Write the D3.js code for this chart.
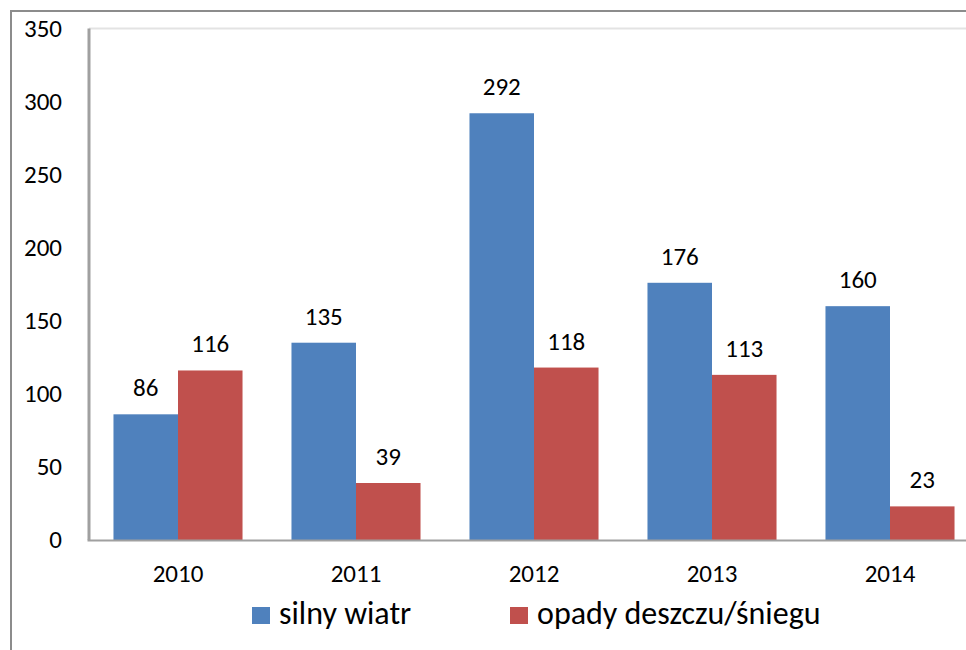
<!DOCTYPE html>
<html>
<head>
<meta charset="utf-8">
<script src="https://cdn.jsdelivr.net/npm/d3@7"></script>
<style>
  html, body { margin: 0; padding: 0; background: #fff; overflow: hidden; }
  svg { display: block; font-family: Carlito, Lato, sans-serif; }
</style>
</head>
<body>
<svg id="chart" width="966" height="650"></svg>
<script>
const years = ["2010", "2011", "2012", "2013", "2014"];
const seriesNames = ["silny wiatr", "opady deszczu/śniegu"];
const silnyWiatr = [86, 135, 292, 176, 160];
const opady = [116, 39, 118, 113, 23];
const yTicks = [0, 50, 100, 150, 200, 250, 300, 350];
const colors = ["#4F81BD", "#C0504D"];

const series = [silnyWiatr, opady];
const svg = d3.select("#chart");
const FONT = "Carlito, Lato, sans-serif";

// outer chart border (cropped on right/bottom)
svg.append("path").attr("d", "M11,650 L11,11 L966,11")
  .attr("fill", "none").attr("stroke", "#8c8c8c").attr("stroke-width", 2);

const plotLeft = 89, plotRight = 979, plotTop = 28.5, plotBottom = 540;
const x = d3.scaleBand().domain(years).range([plotLeft, plotRight]).paddingInner(0.275).paddingOuter(0.1375);
const xs = d3.scaleBand().domain(d3.range(series.length)).range([0, x.bandwidth()]);
const y = d3.scaleLinear().domain([0, 350]).range([plotBottom, plotTop]);

// plot area top border
svg.append("line").attr("x1", plotLeft).attr("x2", 966).attr("y1", plotTop).attr("y2", plotTop)
  .attr("stroke", "#e3e3e3").attr("stroke-width", 2);

// y axis labels
const yAxis = d3.axisLeft(y).tickValues(yTicks).tickSize(0).tickPadding(0);
const yg = svg.append("g").attr("transform", "translate(62,0)").call(yAxis);
yg.select(".domain").remove();
yg.selectAll("text").attr("font-size", 25).attr("fill", "#000").attr("font-family", FONT).attr("dy", "0.3em");

// bars
const groups = svg.append("g").selectAll("g").data(years).join("g")
  .attr("transform", d => `translate(${x(d)},0)`);
groups.selectAll("rect").data((d, i) => series.map((s, k) => ({k, v: s[i]}))).join("rect")
  .attr("x", d => xs(d.k)).attr("width", xs.bandwidth())
  .attr("y", d => y(d.v)).attr("height", d => y(0) - y(d.v))
  .attr("fill", d => colors[d.k]);
groups.selectAll("text").data((d, i) => series.map((s, k) => ({k, v: s[i]}))).join("text")
  .attr("x", d => xs(d.k) + xs.bandwidth() / 2)
  .attr("y", d => y(d.v) - 18)
  .attr("text-anchor", "middle").attr("font-size", 25).attr("fill", "#000")
  .text(d => d.v);

// left axis line
svg.append("line").attr("x1", plotLeft).attr("x2", plotLeft).attr("y1", plotTop).attr("y2", plotBottom)
  .attr("stroke", "#a0a0a0").attr("stroke-width", 3);

// x axis
const xAxis = d3.axisBottom(x).tickSize(0).tickPadding(24);
const xg = svg.append("g").attr("transform", `translate(0,${plotBottom})`).call(xAxis);
xg.select(".domain").remove();
xg.selectAll("text").attr("font-size", 25).attr("fill", "#000").attr("font-family", FONT);
svg.append("line").attr("x1", plotLeft - 1.5).attr("x2", 966).attr("y1", plotBottom + 0.5).attr("y2", plotBottom + 0.5)
  .attr("stroke", "#a0a0a0").attr("stroke-width", 2);

// legend
const legendX = [252, 510];
const lg = svg.append("g").selectAll("g").data(seriesNames).join("g")
  .attr("transform", (d, i) => `translate(${legendX[i]},607)`);
lg.append("rect").attr("width", 18).attr("height", 17).attr("fill", (d, i) => colors[i]);
lg.append("text").attr("x", 27).attr("y", 17).attr("font-size", 32).attr("fill", "#000").text(d => d);
</script>
</body>
</html>
